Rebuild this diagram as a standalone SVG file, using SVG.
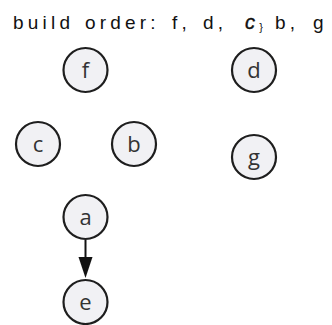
<svg xmlns="http://www.w3.org/2000/svg" width="332" height="325" viewBox="0 0 332 325">
<style>
.node circle{fill:#f1f1f4;stroke:#1e1e1e;stroke-width:2.2}
.node text{font-family:"Open Sans","Noto Sans",sans-serif;font-size:22px;fill:#333;text-anchor:middle}
.title{font-family:"Liberation Sans",Arial,sans-serif;font-size:19px;fill:#111;letter-spacing:4.2px}
.edge{stroke:#111;stroke-width:2;fill:none}
</style>
<text class="title" y="29"><tspan x="13">build</tspan><tspan x="85">order:</tspan><tspan x="172">f,</tspan><tspan x="203">d,</tspan><tspan x="245" font-style="italic" font-size="20" stroke="#111" stroke-width="0.4">c</tspan><tspan font-size="11" dy="2" letter-spacing="0">}</tspan><tspan x="275" dy="-2">b,</tspan><tspan x="313">g</tspan></text>
<g id="connectors">
<line x1="85.5" y1="240" x2="85.5" y2="258" class="edge"/>
<path d="M78.5,257 L92.5,257 L85.5,278 Z" fill="#111"/>
</g>
<g id="node-f" class="node"><circle cx="85.5" cy="70" r="22"/><text x="85.5" y="78">f</text></g>
<g id="node-d" class="node"><circle cx="254" cy="70" r="22"/><text x="254" y="78">d</text></g>
<g id="node-c" class="node"><circle cx="38" cy="144" r="22"/><text x="38" y="152">c</text></g>
<g id="node-b" class="node"><circle cx="134" cy="144" r="22"/><text x="134" y="152">b</text></g>
<g id="node-g" class="node"><circle cx="254" cy="157" r="22"/><text x="254" y="165">g</text></g>
<g id="node-a" class="node"><circle cx="85.5" cy="217" r="22"/><text x="85.5" y="225">a</text></g>
<g id="node-e" class="node"><circle cx="85.5" cy="302" r="22"/><text x="85.5" y="310">e</text></g>
</svg>
